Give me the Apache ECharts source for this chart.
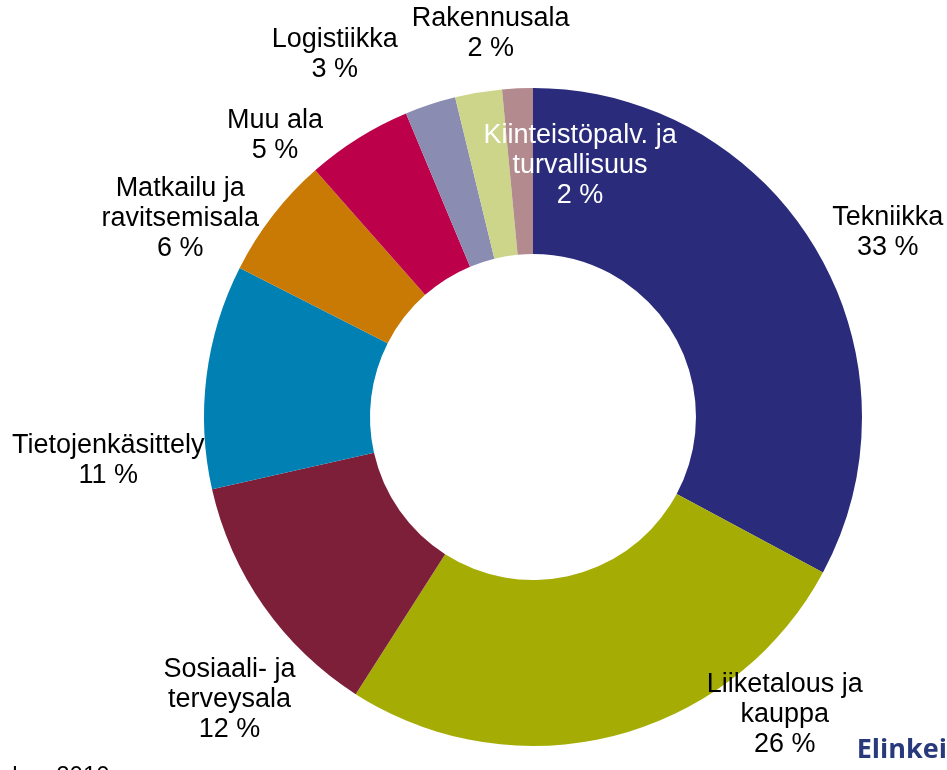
<!DOCTYPE html>
<html>
<head>
<meta charset="utf-8">
<script src="https://cdn.jsdelivr.net/npm/echarts@6/dist/echarts.min.js"></script>
<style>
  html, body { margin: 0; padding: 0; background: #fff; }
  #app { width: 947px; height: 770px; }
</style>
</head>
<body>
<div id="app"></div>
<script>
// alat ja osuudet (%)
const categories = [
  'Tekniikka',
  'Liiketalous ja\nkauppa',
  'Sosiaali- ja\nterveysala',
  'Tietojenkäsittely',
  'Matkailu ja\nravitsemisala',
  'Muu ala',
  'Logistiikka',
  'Rakennusala',
  'Kiinteistöpalv. ja\nturvallisuus'
];
const shares = [32.8, 26.2, 12.4, 11.0, 6.0, 5.2, 2.5, 2.3, 1.5];
const colors = ['#2a2c7b', '#a5ad05', '#7e1f3a', '#0080b3', '#c87a05', '#bc004a', '#8a8cb2', '#cdd58a', '#b38b8f'];

// nimikkeiden paikat: kulma (astetta klo 12:sta myötäpäivään) ja säde keskipisteestä
const labelAngle = [62.5, 139.8, 227.0, 264.2, 299.4, 317.5, 331.3, 353.7, 10.6];
const labelRadius = [400, 390, 415, 427, 405, 382, 413, 386, 256];

const cx = 533, cy = 417;

const myCharts = echarts.init(document.getElementById('app'));

const option = {
  animation: false,
  color: colors,
  graphic: [
    {
      type: 'text', right: 0, top: 737,
      style: { text: 'Elinkei', font: 'bold 27px "Open Sans", sans-serif', fill: '#283a7c' }
    },
    {
      type: 'text', left: -175, top: 764,
      style: { text: 'Lähde: Tilastokeskus 2010', font: '24px "Liberation Sans", Arial', fill: '#000' }
    }
  ],
  series: [{
    type: 'pie',
    center: [cx, cy],
    radius: [163, 329],
    startAngle: 90,
    clockwise: true,
    avoidLabelOverlap: false,
    data: categories.map((name, i) => ({
      name: name,
      value: shares[i],
      label: i === 8 ? { color: '#fff' } : undefined
    })),
    label: {
      show: true,
      position: 'outside',
      formatter: (p) => p.name + '\n' + Math.round(p.value) + ' %',
      fontFamily: '"Liberation Sans", Arial, sans-serif',
      fontSize: 27,
      lineHeight: 30,
      color: '#000',
      align: 'center'
    },
    labelLine: { show: false },
    labelLayout: (params) => {
      const i = params.dataIndex;
      const a = labelAngle[i] * Math.PI / 180;
      return {
        x: cx + labelRadius[i] * Math.sin(a),
        y: cy - labelRadius[i] * Math.cos(a),
        align: 'center',
        verticalAlign: 'middle',
        hideOverlap: false,
        moveOverlap: null
      };
    },
    itemStyle: { borderWidth: 0 },
    emphasis: { disabled: true }
  }]
};

myCharts.setOption(option);
</script>
</body>
</html>
